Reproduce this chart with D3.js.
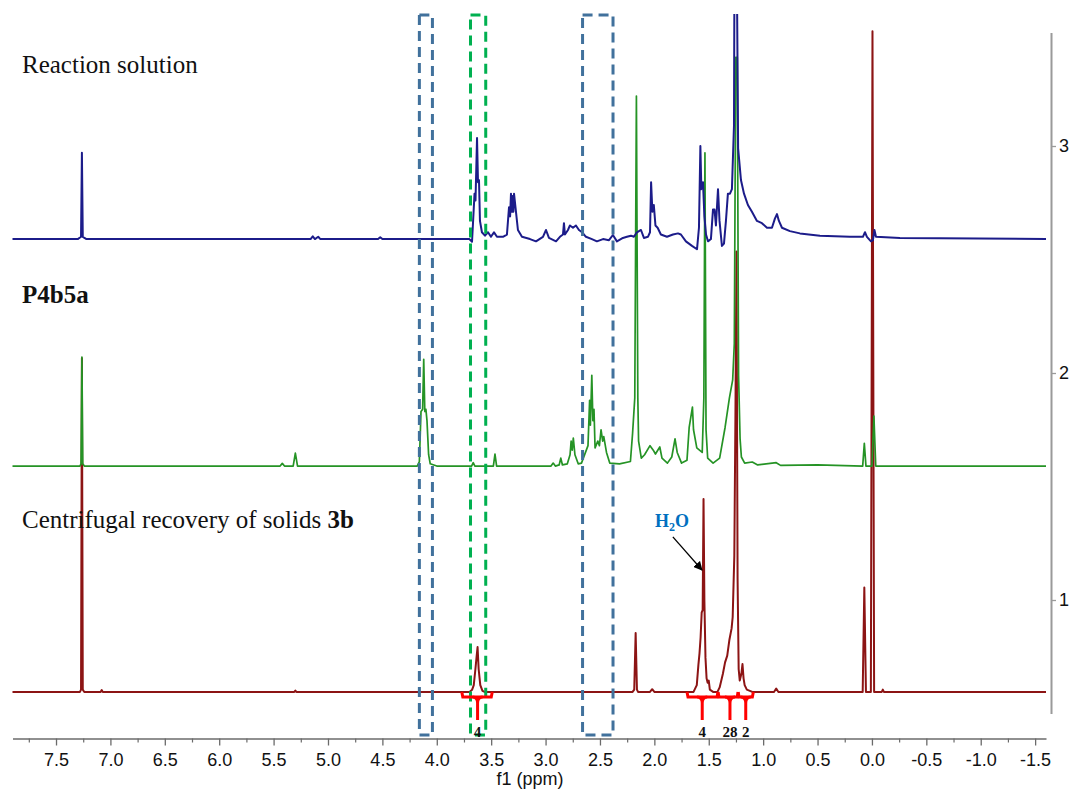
<!DOCTYPE html>
<html><head><meta charset="utf-8">
<script src="https://cdn.jsdelivr.net/npm/d3@7"></script>
<style>body{margin:0;background:#fff}</style>
</head><body>
<svg id="c" width="1072" height="789" xmlns="http://www.w3.org/2000/svg"></svg>
<script>
// ---------------- data ----------------
const xMajorTicks = [7.5,7.0,6.5,6.0,5.5,5.0,4.5,4.0,3.5,3.0,2.5,2.0,1.5,1.0,0.5,0.0,-0.5,-1.0,-1.5];
const xMinorTicks = [7.75,7.25,6.75,6.25,5.75,5.25,4.75,4.25,3.75,3.25,2.75,2.25,1.75,1.25,0.75,0.25,-0.25,-0.75,-1.25];
const yTicks = [1,2,3];
const seriesNames = ["Centrifugal recovery of solids ", "P4b5a", "Reaction solution"];
const seriesOffsets = [0.595, 1.59, 2.59];
const seriesColors = ["#8c1414", "#259325", "#1c1c8a"];

// [ppm, intensity above own baseline]
const redTrace = [[7.90,0],[7.28,0],[7.27,0.01],[7.262,1.47],[7.254,0.01],[7.24,0],[7.09,0],[7.08,0.008],[7.07,0],[5.31,0],[5.30,0.006],[5.29,0],[3.70,0],[3.675,0.01],[3.66,0.03],[3.645,0.10],[3.635,0.15],[3.625,0.198],[3.615,0.10],[3.60,0.03],[3.58,0.005],[3.56,0],[2.20,0],[2.185,0.01],[2.172,0.26],[2.16,0.01],[2.15,0],[2.04,0],[2.02,0.012],[2.00,0],[1.64,0],[1.61,0.03],[1.595,0.12],[1.585,0.17],[1.575,0.24],[1.565,0.35],[1.556,0.36],[1.548,0.85],[1.54,0.4],[1.53,0.15],[1.52,0.06],[1.51,0.04],[1.50,0.05],[1.49,0.01],[1.46,0],[1.42,0],[1.40,0.02],[1.37,0.08],[1.35,0.13],[1.33,0.16],[1.31,0.23],[1.29,0.28],[1.28,0.33],[1.265,0.6],[1.255,1.2],[1.245,1.94],[1.235,0.5],[1.225,0.1],[1.215,0.05],[1.20,0.08],[1.19,0.123],[1.18,0.06],[1.17,0.03],[1.15,0.01],[1.10,0],[0.90,0],[0.88,0.015],[0.86,0],[0.085,0],[0.07,0.46],[0.055,0],[0.01,0],[-0.005,2.91],[-0.02,0],[-0.09,0],[-0.10,0.01],[-0.11,0],[-1.60,0]];

const greenTrace = [[7.90,0],[7.28,0],[7.27,0.01],[7.262,0.48],[7.254,0.01],[7.24,0],[5.44,0],[5.42,0.012],[5.40,0],[5.32,0],[5.30,0.057],[5.28,0],[4.18,0],[4.16,0.02],[4.145,0.24],[4.13,0.25],[4.12,0.47],[4.11,0.24],[4.10,0.25],[4.09,0.2],[4.075,0.05],[4.06,0.01],[4.0,0],[3.68,0.0],[3.665,0.015],[3.65,0.0],[3.48,0],[3.465,0.053],[3.45,0],[2.95,0],[2.93,0.013],[2.91,0],[2.875,0.005],[2.86,0.035],[2.845,0.005],[2.80,0.01],[2.775,0.05],[2.765,0.11],[2.755,0.07],[2.745,0.123],[2.73,0.05],[2.70,0.01],[2.67,0.013],[2.61,0.09],[2.595,0.29],[2.588,0.18],[2.575,0.40],[2.565,0.2],[2.555,0.25],[2.545,0.08],[2.52,0.11],[2.505,0.09],[2.49,0.16],[2.475,0.11],[2.465,0.13],[2.44,0.06],[2.41,0.013],[2.32,0.01],[2.22,0.02],[2.20,0.145],[2.18,0.3],[2.165,1.63],[2.152,0.3],[2.145,0.11],[2.12,0.035],[2.09,0.05],[2.04,0.09],[2.01,0.07],[1.99,0.053],[1.95,0.084],[1.93,0.035],[1.88,0.013],[1.84,0.04],[1.81,0.12],[1.79,0.06],[1.75,0.013],[1.70,0.026],[1.68,0.17],[1.65,0.26],[1.64,0.16],[1.61,0.08],[1.56,0.06],[1.545,0.30],[1.535,1.38],[1.525,0.16],[1.51,0.035],[1.46,0.013],[1.40,0.035],[1.35,0.17],[1.31,0.30],[1.28,0.38],[1.265,0.54],[1.252,1.8],[1.238,1.8],[1.226,0.4],[1.212,0.12],[1.20,0.04],[1.17,0.013],[1.10,0.018],[1.05,0.005],[0.88,0.015],[0.84,0.003],[0.50,0.005],[0.085,0],[0.07,0.10],[0.055,0],[0.0,0],[-0.018,0.22],[-0.035,0],[-1.60,0]];

const blueTrace = [[7.90,0],[7.30,0],[7.27,0.01],[7.262,0.38],[7.254,0.01],[7.22,0],[5.16,0],[5.14,0.012],[5.12,0],[5.09,0.01],[5.07,0],[4.54,0],[4.52,0.008],[4.50,0],[3.70,0],[3.676,-0.012],[3.653,0.20],[3.644,0.17],[3.630,0.445],[3.621,0.25],[3.612,0.26],[3.603,0.08],[3.585,0.03],[3.557,0.015],[3.529,0.03],[3.502,0.01],[3.474,0.03],[3.447,0.01],[3.392,0.01],[3.355,0.02],[3.336,0.14],[3.326,0.10],[3.318,0.20],[3.310,0.12],[3.304,0.19],[3.296,0.12],[3.290,0.20],[3.272,0.12],[3.254,0.04],[3.217,0.01],[3.143,0.0],[3.088,-0.01],[3.024,0.01],[2.996,0.04],[2.969,0.005],[2.904,-0.01],[2.868,0.01],[2.840,0.02],[2.831,0.07],[2.822,0.02],[2.794,0.04],[2.776,0.06],[2.748,0.05],[2.721,0.06],[2.693,0.04],[2.665,0.03],[2.629,0.01],[2.574,0.0],[2.528,-0.01],[2.472,0.0],[2.417,-0.005],[2.381,0.018],[2.344,-0.01],[2.289,0.005],[2.252,0.01],[2.215,0.015],[2.188,0.01],[2.160,0.03],[2.123,0.04],[2.096,0.005],[2.059,0.01],[2.040,0.03],[2.030,0.25],[2.018,0.12],[2.005,0.15],[1.990,0.06],[1.970,0.05],[1.940,0.02],[1.884,0.01],[1.829,0.02],[1.783,0.025],[1.756,0.02],[1.710,-0.01],[1.654,-0.03],[1.608,-0.045],[1.590,0.05],[1.577,0.41],[1.568,0.22],[1.553,0.25],[1.540,0.10],[1.525,0.02],[1.507,-0.01],[1.480,0.0],[1.461,0.13],[1.447,0.13],[1.434,0.06],[1.415,0.22],[1.401,0.08],[1.379,-0.03],[1.360,-0.02],[1.342,0.08],[1.324,0.20],[1.305,0.20],[1.287,0.22],[1.268,0.5],[1.260,1.8],[1.248,1.6],[1.230,0.4],[1.204,0.26],[1.176,0.2],[1.140,0.15],[1.103,0.12],[1.057,0.08],[1.011,0.07],[0.965,0.05],[0.919,0.05],[0.892,0.09],[0.873,0.11],[0.855,0.08],[0.827,0.05],[0.754,0.035],[0.662,0.025],[0.478,0.015],[0.202,0.01],[0.083,0.01],[0.064,0.03],[0.046,0.01],[0.009,-0.01],[-0.009,-0.005],[-0.023,0.04],[-0.037,0.01],[-0.257,0.005],[-1.60,0.0]];

const traces = [redTrace, greenTrace, blueTrace];

const boxRanges = [[4.16,4.04],[3.69,3.55],[2.66,2.38]];
const boxColors = ["#41719c","#00b050","#41719c"];

const integralFrom = [3.77, 1.70, 1.415, 1.23];
const integralTo   = [3.49, 1.415, 1.23, 1.09];
const integralMid  = [3.625, 1.56, 1.305, 1.16];
const integralLabels = ["4","4","28","2"];

// ---------------- drawing ----------------
const svg = d3.select("#c");
const x = d3.scaleLinear().domain([7.9, -1.6]).range([12.5, 1046]);
const y = d3.scaleLinear().domain([0.5, 3.5]).range([713.5, 32.5]);
const axisY = 738.5;

svg.append("defs").append("clipPath").attr("id","plotclip")
  .append("rect").attr("x",10).attr("y",14).attr("width",1040).attr("height",724);
const mk = svg.select("defs").append("marker").attr("id","arr")
  .attr("viewBox","0 0 10 10").attr("refX",9).attr("refY",5)
  .attr("markerWidth",7).attr("markerHeight",7).attr("orient","auto-start-reverse");
mk.append("path").attr("d","M0,0 L10,5 L0,10 z").attr("fill","#000");

// spectra
const g = svg.append("g").attr("clip-path","url(#plotclip)");
traces.forEach((tr, i) => {
  const line = d3.line().x(d => x(d[0])).y(d => y(seriesOffsets[i] + d[1]));
  g.append("path").datum(tr).attr("d", line)
    .attr("fill","none").attr("stroke", seriesColors[i])
    .attr("stroke-width", i === 1 ? 1.7 : 2).attr("stroke-linejoin","round");
});

// dashed boxes
boxRanges.forEach((r, i) => {
  svg.append("rect")
    .attr("x", x(r[0])).attr("y", 15)
    .attr("width", x(r[1]) - x(r[0])).attr("height", 720)
    .attr("fill","none").attr("stroke", boxColors[i]).attr("stroke-width",3)
    .attr("stroke-dasharray","10,6");
});

// bottom axis
const xAxis = d3.axisBottom(x).tickValues(xMajorTicks).tickSize(7).tickSizeOuter(0)
  .tickFormat(d => d.toFixed(1));
const gx = svg.append("g").attr("transform",`translate(0,${axisY})`).call(xAxis);
gx.select(".domain").attr("stroke","#6b6b6b").attr("stroke-width",1.5);
gx.selectAll(".tick line").attr("stroke","#6b6b6b").attr("stroke-width",1.3);
gx.selectAll(".tick text").attr("font-family","Liberation Sans, Arial, sans-serif")
  .attr("font-size",18).attr("fill","#111").attr("dy","0.95em");
const gxm = svg.append("g").attr("transform",`translate(0,${axisY})`)
  .call(d3.axisBottom(x).tickValues(xMinorTicks).tickSize(4).tickSizeOuter(0).tickFormat(""));
gxm.select(".domain").remove();
gxm.selectAll(".tick line").attr("stroke","#6b6b6b").attr("stroke-width",1.2);
svg.append("text").attr("x",530).attr("y",785).attr("text-anchor","middle")
  .attr("font-family","Liberation Sans, Arial, sans-serif").attr("font-size",18).attr("fill","#111")
  .text("f1 (ppm)");

// right axis
const gy = svg.append("g").attr("transform","translate(1051,0)")
  .call(d3.axisRight(y).tickValues(yTicks).tickSize(5).tickSizeOuter(0).tickFormat(d3.format("d")));
gy.select(".domain").attr("stroke","#9a9a9a").attr("stroke-width",2);
gy.selectAll(".tick line").attr("stroke","#9a9a9a").attr("stroke-width",1.3);
gy.selectAll(".tick text").attr("font-family","Liberation Sans, Arial, sans-serif")
  .attr("font-size",18).attr("fill","#111").attr("x",8);

// integrals
const redBase = y(seriesOffsets[0]);
integralFrom.forEach((f, i) => {
  const x1 = x(f), x2 = x(integralTo[i]), xm = x(integralMid[i]);
  const by = redBase + 5;
  svg.append("path").attr("d",`M${x1},${by-5} L${x1+1},${by} L${x2-1},${by} L${x2},${by-5}`)
    .attr("fill","none").attr("stroke","#ff0000").attr("stroke-width",3);
  svg.append("path").attr("d",`M${xm-5},${by} Q${xm},${by} ${xm},${by+6} L${xm},${by+23} M${xm+5},${by} Q${xm},${by} ${xm},${by+6}`)
    .attr("fill","none").attr("stroke","#ff0000").attr("stroke-width",3);
  svg.append("text").attr("x", xm).attr("y", 737).attr("text-anchor","middle")
    .attr("font-family","Liberation Serif, Times New Roman, serif").attr("font-weight","bold")
    .attr("font-size",15).attr("fill","#111").text(integralLabels[i]);
});

// labels
const serif = "Liberation Serif, Times New Roman, serif";
svg.append("text").attr("x",22).attr("y",73).attr("font-family",serif).attr("font-size",25)
  .attr("fill","#111").text(seriesNames[2]);
svg.append("text").attr("x",22).attr("y",303).attr("font-family",serif).attr("font-size",25)
  .attr("font-weight","bold").attr("fill","#111").text(seriesNames[1]);
const t3 = svg.append("text").attr("x",22).attr("y",528).attr("font-family",serif).attr("font-size",25).attr("fill","#111");
t3.append("tspan").text(seriesNames[0]);
t3.append("tspan").attr("font-weight","bold").text("3b");

// H2O annotation
const h2o = svg.append("text").attr("x",655).attr("y",527).attr("font-family",serif)
  .attr("font-size",18).attr("font-weight","bold").attr("fill","#0070c0");
h2o.append("tspan").text("H");
h2o.append("tspan").attr("font-size",12).attr("dy",4).text("2");
h2o.append("tspan").attr("dy",-4).text("O");
svg.append("line")
  .attr("x1", x(1.83)).attr("y1", y(seriesOffsets[0] + 0.683))
  .attr("x2", x(1.562)).attr("y2", y(seriesOffsets[0] + 0.537))
  .attr("stroke","#000").attr("stroke-width",1.3).attr("marker-end","url(#arr)");
</script>
</body></html>
